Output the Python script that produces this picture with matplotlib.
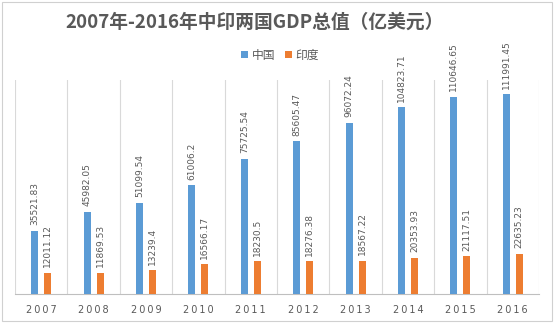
import numpy as np
import matplotlib.pyplot as plt
from matplotlib.patches import Rectangle

plt.rcParams['font.family'] = ['Noto Sans CJK SC', 'DejaVu Sans']

years = ["2007", "2008", "2009", "2010", "2011", "2012", "2013", "2014", "2015", "2016"]
china = [35521.83, 45982.05, 51099.54, 61006.2, 75725.54, 85605.47, 96072.24, 104823.71, 110646.65, 111991.45]
india = [12011.12, 11869.53, 13239.4, 16566.17, 18230.5, 18276.38, 18567.22, 20353.93, 21117.51, 22635.23]

blue = "#5B9BD5"
orange = "#ED7D31"
grey = "#595959"

fig = plt.figure(figsize=(5.54, 3.23), dpi=100)
fig.patches.append(Rectangle((0.003, 0.005), 0.993, 0.99, transform=fig.transFigure,
                             fill=False, edgecolor="#D0D0D0", linewidth=0.8))

ax = fig.add_axes([15 / 554, 29 / 323, 524 / 554, 214 / 323])

x = np.arange(len(years))
w = 0.135
off = 0.125
b1 = ax.bar(x - off, china, w, color=blue, label="中国", zorder=3)
b2 = ax.bar(x + off, india, w, color=orange, label="印度", zorder=3)

ax.bar_label(b1, labels=[f"{v}" for v in china], rotation=90, padding=4,
             fontsize=6.5, color=grey, family="DejaVu Sans")
ax.bar_label(b2, labels=[f"{v}" for v in india], rotation=90, padding=4,
             fontsize=6.5, color=grey, family="DejaVu Sans")

ax.set_xlim(-0.5, len(years) - 0.5)
ax.set_ylim(0, 120000)
ax.set_yticks([])
ax.set_xticks(x)
ax.set_xticklabels(["\u2009".join(y) for y in years], fontsize=7, color=grey,
                   family="DejaVu Sans")
ax.tick_params(axis="x", length=0, pad=8)
ax.set_xticks(np.arange(-0.5, len(years), 1), minor=True)
ax.tick_params(axis="x", which="minor", length=0)
ax.grid(which="minor", axis="x", color="#D9D9D9", linewidth=0.8, zorder=0)
for s in ["top", "left", "right"]:
    ax.spines[s].set_visible(False)
ax.spines["bottom"].set_color("#BFBFBF")
ax.spines["bottom"].set_linewidth(0.8)

fig.legend(handles=[b1, b2], loc="center", bbox_to_anchor=(280 / 554, 1 - 55 / 323),
           ncol=2, frameon=False, fontsize=8.5, handlelength=0.6, handleheight=0.6,
           handletextpad=0.3, columnspacing=0.8, labelcolor=grey)

fig.text(255 / 554, 1 - 22 / 323, "2007年-2016年中印两国GDP总值（亿美元）", ha="center", va="center",
         fontsize=13.5, fontweight="bold", color=grey)

fig.savefig("out.png", dpi=100)
